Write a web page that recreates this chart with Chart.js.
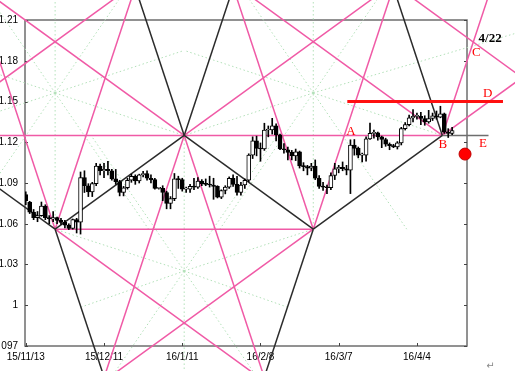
<!DOCTYPE html>
<html>
<head>
<meta charset="utf-8">
<script src="https://cdn.jsdelivr.net/npm/chart.js@4.4.0/dist/chart.umd.min.js"></script>
<style>
  html, body { margin: 0; padding: 0; background: #fff; }
  #wrap { width: 515px; height: 371px; }
</style>
</head>
<body>
<div id="wrap"><canvas id="chart" width="515" height="371"></canvas></div>
<script>
// daily candles, index 0 = 15/11/13 (weekdays, one holiday left out)
const opens = [
  1.0815,1.0760,1.0685,1.0645,1.0660,1.0730,1.0645,1.0635,1.0645,1.0625,
  1.0610,1.0590,1.0565,1.0630,1.0612,1.0940,1.0880,1.0835,1.0895,1.1025,
  1.0990,1.1000,1.0990,1.0930,1.0910,1.0830,1.0865,1.0920,1.0950,1.0915,
  1.0960,1.0970,1.0935,1.0925,1.0860,1.0860,1.0830,1.0750,1.0785,1.0930,
  1.0925,1.0855,1.0855,1.0875,1.0870,1.0915,1.0895,1.0890,1.0885,1.0875,
  1.0795,1.0845,1.0870,1.0935,1.0890,1.0830,1.0885,1.0920,1.1105,1.1210,
  1.1155,1.1150,1.1290,1.1290,1.1320,1.1255,1.1150,1.1145,1.1125,1.1100,
  1.1130,1.1025,1.1020,1.1010,1.1025,1.0935,1.0875,1.0870,1.0865,1.0955,
  1.1005,1.1015,1.1005,1.0995,1.1180,1.1155,1.1105,1.1105,1.1225,1.1265,
  1.1270,1.1240,1.1220,1.1185,1.1175,1.1165,1.1195,1.1300,1.1330,1.1380,
  1.1390,1.1390,1.1375,1.1350,1.1375,1.1395,1.1385,1.1410,1.1275,1.1265
];
const highs = [
  1.0835,1.0765,1.0705,1.0690,1.0760,1.0740,1.0660,1.0690,1.0650,1.0640,
  1.0625,1.0600,1.0635,1.0640,1.0981,1.0990,1.0895,1.0905,1.1045,1.1040,
  1.1045,1.1060,1.1000,1.1000,1.0920,1.0875,1.0935,1.0965,1.0960,1.0965,
  1.0985,1.0990,1.0960,1.0935,1.0865,1.0880,1.0840,1.0800,1.0970,1.0950,
  1.0935,1.0870,1.0890,1.0935,1.0940,1.0925,1.0930,1.0950,1.0935,1.0880,
  1.0850,1.0880,1.0945,1.0960,1.0950,1.0905,1.0930,1.1115,1.1240,1.1245,
  1.1195,1.1340,1.1320,1.1376,1.1335,1.1260,1.1190,1.1165,1.1140,1.1150,
  1.1135,1.1050,1.1030,1.1045,1.1070,1.0955,1.0905,1.0885,1.0975,1.1045,
  1.1030,1.1055,1.1030,1.1218,1.1220,1.1165,1.1120,1.1240,1.1342,1.1290,
  1.1275,1.1245,1.1230,1.1195,1.1185,1.1205,1.1310,1.1345,1.1400,1.1440,
  1.1415,1.1420,1.1395,1.1435,1.1415,1.1430,1.1465,1.1415,1.1300,1.1310
];
const lows = [
  1.0740,1.0675,1.0630,1.0615,1.0655,1.0630,1.0600,1.0615,1.0600,1.0595,
  1.0570,1.0557,1.0560,1.0532,1.0524,1.0830,1.0800,1.0800,1.0880,1.0960,
  1.0940,1.0960,1.0920,1.0890,1.0805,1.0805,1.0855,1.0905,1.0890,1.0900,
  1.0945,1.0920,1.0900,1.0855,1.0855,1.0770,1.0710,1.0710,1.0770,1.0860,
  1.0840,1.0830,1.0830,1.0850,1.0860,1.0880,1.0880,1.0870,1.0780,1.0790,
  1.0785,1.0820,1.0860,1.0875,1.0810,1.0810,1.0860,1.0910,1.1080,1.1100,
  1.1060,1.1140,1.1240,1.1260,1.1210,1.1145,1.1120,1.1070,1.1070,1.1065,
  1.1010,1.0990,1.0960,1.0990,1.0925,1.0860,1.0845,1.0822,1.0850,1.0925,
  1.0975,1.0990,1.0960,1.0822,1.1105,1.1085,1.1055,1.1060,1.1220,1.1230,
  1.1215,1.1160,1.1170,1.1145,1.1160,1.1150,1.1180,1.1290,1.1320,1.1350,
  1.1370,1.1330,1.1325,1.1340,1.1360,1.1370,1.1380,1.1265,1.1235,1.1255
];
const closes = [
  1.0770,1.0685,1.0645,1.0660,1.0730,1.0645,1.0635,1.0645,1.0625,1.0610,
  1.0590,1.0565,1.0630,1.0612,1.0940,1.0880,1.0835,1.0895,1.1025,1.0990,
  1.1000,1.0990,1.0930,1.0910,1.0830,1.0865,1.0920,1.0950,1.0915,1.0960,
  1.0970,1.0935,1.0925,1.0860,1.0860,1.0830,1.0750,1.0785,1.0930,1.0925,
  1.0855,1.0855,1.0875,1.0870,1.0915,1.0895,1.0890,1.0885,1.0875,1.0795,
  1.0845,1.0870,1.0935,1.0890,1.0830,1.0885,1.0920,1.1105,1.1210,1.1155,
  1.1150,1.1290,1.1290,1.1320,1.1255,1.1150,1.1145,1.1125,1.1100,1.1130,
  1.1025,1.1020,1.1010,1.1025,1.0935,1.0875,1.0870,1.0865,1.0955,1.1005,
  1.1015,1.1005,1.0995,1.1180,1.1155,1.1105,1.1105,1.1225,1.1265,1.1270,
  1.1240,1.1220,1.1185,1.1175,1.1165,1.1195,1.1300,1.1330,1.1380,1.1390,
  1.1390,1.1375,1.1350,1.1375,1.1395,1.1385,1.1410,1.1275,1.1265,1.1285
];

const xTickIdx = [0, 20, 40, 60, 80, 100];
const xTickLabels = ['15/11/13', '15/12/11', '16/1/11', '16/2/8', '16/3/7', '16/4/4'];
const yTickValues = [1.21, 1.18, 1.15, 1.12, 1.09, 1.06, 1.03, 1.00, 0.97];
const yTickLabels = ['1.21', '1.18', '1.15', '1.12', '1.09', '1.06', '1.03', '1', '097'];

// overlay lines, each [index1, price1, index2, price2]
const pinkLines = [
  [-8, 1.125, 106.5, 1.125],
  [7.5, 1.056, 73.5, 1.056],
  [40.5, 1.125, -25.5, 1.263],
  [40.5, 1.125, 106.5, 1.263],
  [-25.5, 1.125, 40.5, 1.263],
  [106.5, 1.125, 40.5, 1.263],
  [106.5, 1.125, 139.5, 1.194],
  [7.5, 1.056, 73.5, 0.918],
  [73.5, 1.056, 7.5, 0.918],
  [81.3, 1.263, 147.3, 1.125],
  [40.5, 1.125, 18.5, 0.9336],
  [40.5, 1.125, 62.5, 0.9336],
  [7.5, 1.056, -12.5, 1.230],
  [7.5, 1.056, 27.5, 1.230],
  [73.5, 1.056, 53.5, 1.230],
  [73.5, 1.056, 93.5, 1.230],
  [106.5, 1.125, 119.5, 1.2381]
];
const blackLines = [
  [7.5, 1.056, 40.5, 1.125],
  [40.5, 1.125, 73.5, 1.056],
  [73.5, 1.056, 106.5, 1.125],
  [7.5, 1.056, -25.5, 1.125],
  [40.5, 1.125, 27.5, 1.2381],
  [40.5, 1.125, 53.5, 1.2381],
  [7.5, 1.056, 20.5, 0.9429],
  [73.5, 1.056, 60.5, 0.9429],
  [106.5, 1.125, 93.5, 1.2381]
];
const greyLines = [
  [106.5, 1.125, 118.3, 1.125]
];
const greenLines = [
  [7.5, 1.235, 7.5, 1.056],
  [7.5, 1.1563, 40.5, 1.125],
  [7.5, 1.1563, 40.5, 1.1876],
  [7.5, 1.1563, -25.5, 1.125],
  [7.5, 1.1563, -25.5, 1.1876],
  [7.5, 1.1563, 31.4, 1.056],
  [7.5, 1.1563, -16.4, 1.056],
  [7.5, 1.1563, 25.0, 1.230],
  [7.5, 1.1563, -10.0, 1.230],
  [73.5, 1.235, 73.5, 1.056],
  [73.5, 1.1563, 40.5, 1.125],
  [73.5, 1.1563, 40.5, 1.1876],
  [73.5, 1.1563, 106.5, 1.125],
  [73.5, 1.1563, 125.0, 1.200],
  [73.5, 1.1563, 97.4, 1.056],
  [73.5, 1.1563, 49.6, 1.056],
  [73.5, 1.1563, 91.0, 1.230],
  [73.5, 1.1563, 56.0, 1.230],
  [40.5, 1.125, 40.5, 0.940],
  [40.5, 1.0252, 7.5, 1.056],
  [40.5, 1.0252, 73.5, 1.056],
  [40.5, 1.0252, 14.0, 0.9985],
  [40.5, 1.0252, 67.0, 0.9985],
  [40.5, 1.0252, 64.3, 1.125],
  [40.5, 1.0252, 16.7, 1.125],
  [40.5, 1.0252, 60.8, 0.940],
  [40.5, 1.0252, 20.2, 0.940]
];
const redLevel = [82.2, 1.150, 122.0, 1.150];
const redDot = [112.3, 1.1113];

// text marks at [index, price]
const markText = ['A', 'B', 'C', 'D', 'E', '4/22', '\u21B5'];
const markIdx = [83.1, 106.6, 115.2, 118.1, 116.9, 118.7, 118.8];
const markPrice = [1.1278, 1.1185, 1.1862, 1.1555, 1.1192, 1.1963, 0.9553];

const candleIdx = closes.map((c, i) => i);
const wickData = candleIdx.map(i => ({ x: i, y: [lows[i], highs[i]] }));
const bodyData = candleIdx.map(i => ({ x: i, y: [opens[i], closes[i]] }));
const bodyFill = candleIdx.map(i => closes[i] >= opens[i] ? '#ffffff' : '#000000');

function segment(seg, color, width, dash, order) {
  return {
    type: 'line',
    data: [{ x: seg[0], y: seg[1] }, { x: seg[2], y: seg[3] }],
    borderColor: color,
    borderWidth: width,
    borderDash: dash,
    pointRadius: 0,
    fill: false,
    tension: 0,
    clip: false,
    order: order
  };
}

const datasets = [
  {
    type: 'bar', data: bodyData, backgroundColor: bodyFill, borderColor: '#000',
    borderWidth: 1, borderSkipped: false, barThickness: 4, grouped: false,
    minBarLength: 1, order: 1
  },
  {
    type: 'bar', data: wickData, backgroundColor: '#000', borderWidth: 0,
    barThickness: 1, grouped: false, order: 2
  },
  {
    type: 'line', data: [{ x: redDot[0], y: redDot[1] }], showLine: false,
    pointRadius: 6, pointBackgroundColor: '#ff0000', pointBorderColor: '#c00000',
    pointBorderWidth: 1, clip: false, order: 0
  },
  segment(redLevel, '#ff1010', 3, [], 3)
];
blackLines.forEach(s => datasets.push(segment(s, '#2b2b2b', 1.5, [], 4)));
greyLines.forEach(s => datasets.push(segment(s, '#6e6e6e', 1.5, [], 4)));
pinkLines.forEach(s => datasets.push(segment(s, '#f05aa6', 1.5, [], 5)));
greenLines.forEach(s => datasets.push(segment(s, '#b2e0b8', 1, [1.5, 2.5], 6)));

const framePlugin = {
  id: 'frame',
  beforeDatasetsDraw(chart) {
    const { ctx, chartArea: a, scales } = chart;
    ctx.save();
    ctx.strokeStyle = '#6e6e6e';
    ctx.lineWidth = 1.5;
    ctx.strokeRect(a.left, a.top, a.right - a.left, a.bottom - a.top);
    ctx.lineWidth = 1;
    ctx.strokeStyle = '#444';
    ctx.beginPath();
    yTickValues.forEach(v => {
      const y = Math.round(scales.y.getPixelForValue(v)) + 0.5;
      ctx.moveTo(a.left, y); ctx.lineTo(a.left + 3, y);
      ctx.moveTo(a.right, y); ctx.lineTo(a.right - 3, y);
    });
    xTickIdx.forEach(v => {
      const x = Math.round(scales.x.getPixelForValue(v)) + 0.5;
      ctx.moveTo(x, a.bottom); ctx.lineTo(x, a.bottom - 3);
    });
    ctx.stroke();
    ctx.restore();
  }
};

const marksPlugin = {
  id: 'marks',
  afterDatasetsDraw(chart) {
    const { ctx, scales } = chart;
    ctx.save();
    ctx.textAlign = 'center';
    ctx.textBaseline = 'middle';
    markText.forEach((t, i) => {
      const x = scales.x.getPixelForValue(markIdx[i]);
      const y = scales.y.getPixelForValue(markPrice[i]);
      if (t === '4/22') {
        ctx.font = "bold 13px 'Liberation Serif', serif";
        ctx.fillStyle = '#000';
      } else if (t === '\u21B5') {
        ctx.font = "10px 'DejaVu Sans', sans-serif";
        ctx.fillStyle = '#888';
      } else {
        ctx.font = "13px 'Liberation Serif', serif";
        ctx.fillStyle = '#ff0000';
      }
      ctx.fillText(t, x, y);
    });
    ctx.restore();
  }
};

Chart.defaults.font.family = "'Liberation Sans', Arial, sans-serif";
Chart.defaults.font.size = 10;
Chart.defaults.color = '#000';

new Chart(document.getElementById('chart'), {
  type: 'bar',
  data: { datasets: datasets },
  options: {
    responsive: false,
    animation: false,
    devicePixelRatio: 1,
    layout: { padding: { top: 20, right: 48, left: 0, bottom: 0 } },
    plugins: { legend: { display: false }, tooltip: { enabled: false } },
    scales: {
      x: {
        type: 'linear', min: -0.2, max: 112.8, offset: false,
        grid: { display: false, drawTicks: false },
        border: { display: false },
        afterBuildTicks: (scale) => { scale.ticks = xTickIdx.map(v => ({ value: v })); },
        afterFit: (scale) => { scale.height = 25; },
        ticks: {
          padding: 5, maxRotation: 0, autoSkip: false,
          callback: (v, i) => xTickLabels[i]
        }
      },
      y: {
        type: 'linear', min: 0.97, max: 1.21,
        grid: { display: false, drawTicks: false },
        border: { display: false },
        afterBuildTicks: (scale) => { scale.ticks = yTickValues.map(v => ({ value: v })); },
        afterFit: (scale) => { scale.width = 25; },
        ticks: { padding: 7, callback: (v, i) => yTickLabels[i] }
      }
    }
  },
  plugins: [framePlugin, marksPlugin]
});
</script>
</body>
</html>
